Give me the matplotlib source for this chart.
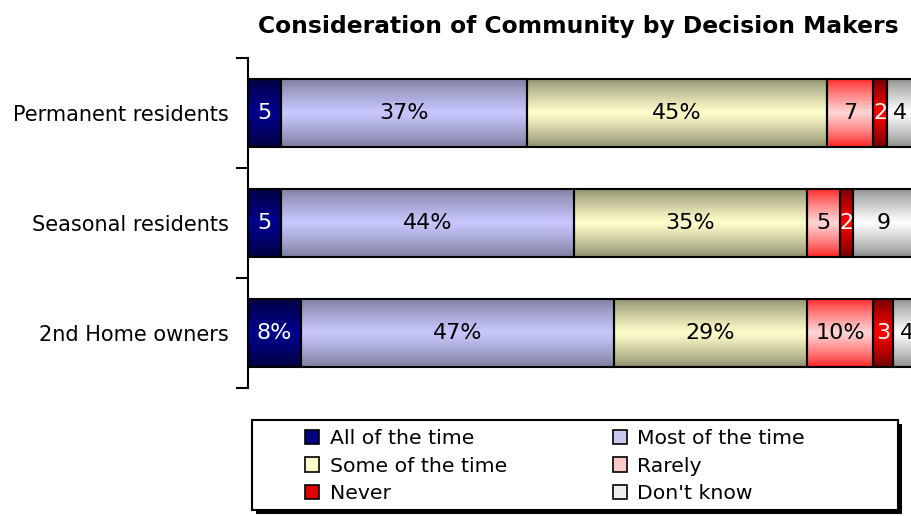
import matplotlib
matplotlib.use("Agg")
import matplotlib.pyplot as plt
import numpy as np
from matplotlib.patches import Patch, Rectangle
from matplotlib.colors import to_rgb

groups = ["Permanent residents", "Seasonal residents", "2nd Home owners"]
series = ["All of the time", "Most of the time", "Some of the time", "Rarely", "Never", "Don't know"]
all_time = [5, 5, 8]
most_time = [37, 44, 47]
some_time = [45, 35, 29]
rarely = [7, 5, 10]
never = [2, 2, 3]
dont_know = [4, 9, 4]
bar_labels = [
    ["5", "37%", "45%", "7", "2", "4"],
    ["5", "44%", "35%", "5", "2", "9"],
    ["8%", "47%", "29%", "10%", "3", "4"],
]

# (edge colour, centre colour) for the vertical gradient
shades = [
    ("#00003a", "#000090"),
    ("#7c7c9c", "#c8c8ff"),
    ("#8c8c6c", "#ffffcc"),
    ("#ff2020", "#ffd6d6"),
    ("#6a0000", "#ff0000"),
    ("#8a8a8a", "#ffffff"),
]
legend_colors = ["#000080", "#c8c8f0", "#ffffcc", "#ffc8c8", "#e00000", "#eeeeee"]
text_colors = ["white", "black", "black", "black", "white", "black"]


def gradient(edge, centre, n=64):
    e = np.array(to_rgb(edge))
    c = np.array(to_rgb(centre))
    t = np.linspace(0, 1, n)
    w = (1 - np.abs(2 * t - 1)) ** 0.8
    return (e + (c - e) * w[:, None])[:, None, :]


fig = plt.figure(figsize=(9.11, 5.16), dpi=100)
ax = fig.add_axes([248 / 911, 1 - 388 / 516, 672 / 911, 330 / 516])

values = [all_time, most_time, some_time, rarely, never, dont_know]
y = np.arange(len(groups))
left = np.zeros(len(groups))
for i, vals in enumerate(values):
    bars = ax.barh(y, vals, left=left, height=0.62, facecolor="none",
                   edgecolor="black", linewidth=1.5, zorder=3)
    img = gradient(*shades[i])
    for j, b in enumerate(bars):
        x0, y0, w, h = b.get_x(), b.get_y(), b.get_width(), b.get_height()
        im = ax.imshow(img, extent=(x0, x0 + w, y0 + h, y0), aspect="auto",
                       interpolation="bilinear", zorder=2)
        im.set_clip_path(b)
        ax.text(x0 + w / 2, y0 + h / 2, bar_labels[j][i], ha="center", va="center",
                color=text_colors[i], fontsize=16, zorder=4)
    left += np.array(vals)

ax.set_xlim(0, 101)
ax.set_ylim(2.5, -0.5)
for s in ["top", "right", "bottom"]:
    ax.spines[s].set_visible(False)
ax.spines["left"].set_linewidth(1.5)
ax.set_xticks([])
ax.set_yticks(y)
ax.set_yticklabels(groups, fontsize=15)
ax.tick_params(axis="y", which="major", length=0, pad=14)
ax.set_yticks([-0.5, 0.5, 1.5, 2.5], minor=True)
ax.tick_params(axis="y", which="minor", length=9, width=1.5, direction="out")

fig.text(578 / 911, 1 - 27 / 516, "Consideration of Community by Decision Makers",
         ha="center", va="center", fontsize=16.8, fontweight="bold")

# legend frame with hard shadow
bx, by, bw, bh = 252 / 911, 1 - 510 / 516, 646 / 911, 90 / 516
fig.patches.append(Rectangle((bx + 4 / 911, by - 4 / 516), bw, bh, transform=fig.transFigure,
                             facecolor="black", edgecolor="none", zorder=1))
fig.patches.append(Rectangle((bx, by), bw, bh, transform=fig.transFigure,
                             facecolor="white", edgecolor="black", linewidth=1.5, zorder=2))

handles = [Patch(facecolor=legend_colors[i], edgecolor="black", linewidth=1.2)
           for i in range(len(series))]
order = [0, 2, 4, 1, 3, 5]
fig.legend([handles[k] for k in order], [series[k] for k in order],
           loc="upper left", bbox_to_anchor=(305 / 911, 1 - 429 / 516), ncol=2,
           frameon=False, fontsize=14.7, handlelength=0.7, handleheight=0.7,
           handletextpad=0.5, labelspacing=0.42, columnspacing=5.2,
           borderpad=0, borderaxespad=0)

fig.savefig("out.png", dpi=100)
